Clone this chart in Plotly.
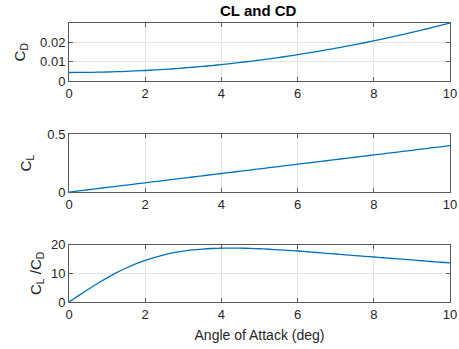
import plotly.graph_objects as go
from plotly.subplots import make_subplots

alpha = [0, 0.25, 0.5, 0.75, 1, 1.25, 1.5, 1.75, 2, 2.25, 2.5, 2.75, 3, 3.25, 3.5, 3.75, 4,
         4.25, 4.5, 4.75, 5, 5.25, 5.5, 5.75, 6, 6.25, 6.5, 6.75, 7, 7.25, 7.5, 7.75, 8,
         8.25, 8.5, 8.75, 9, 9.25, 9.5, 9.75, 10]
cd = [0.00450, 0.00452, 0.00456, 0.00464, 0.00475, 0.00489, 0.00507, 0.00527, 0.00551,
      0.00578, 0.00608, 0.00641, 0.00677, 0.00716, 0.00759, 0.00804, 0.00853, 0.00905,
      0.00960, 0.01019, 0.01080, 0.01145, 0.01212, 0.01283, 0.01357, 0.01434, 0.01515,
      0.01598, 0.01685, 0.01775, 0.01868, 0.01964, 0.02063, 0.02165, 0.02271, 0.02379,
      0.02491, 0.02606, 0.02724, 0.02846, 0.02970]
cl = [0.000, 0.010, 0.020, 0.030, 0.040, 0.050, 0.060, 0.070, 0.080, 0.090, 0.100,
      0.110, 0.120, 0.130, 0.140, 0.150, 0.160, 0.170, 0.180, 0.190, 0.200, 0.210,
      0.220, 0.230, 0.240, 0.250, 0.260, 0.270, 0.280, 0.290, 0.300, 0.310, 0.320,
      0.330, 0.340, 0.350, 0.360, 0.370, 0.380, 0.390, 0.400]
ld = [0.0, 2.21, 4.38, 6.46, 8.42, 10.22, 11.84, 13.28, 14.52, 15.58, 16.46, 17.17,
      17.73, 18.15, 18.45, 18.65, 18.76, 18.80, 18.77, 18.68, 18.55, 18.38, 18.18, 17.97,
      17.78, 17.52, 17.25, 16.98, 16.72, 16.45, 16.18, 15.93, 15.68, 15.42, 15.16, 14.91,
      14.65, 14.38, 14.12, 13.86, 13.60]

xticks = [0, 2, 4, 6, 8, 10]

fig = make_subplots(rows=3, cols=1)
for i, ys in enumerate([cd, cl, ld]):
    fig.add_trace(go.Scatter(x=alpha, y=ys, mode="lines", line_shape="spline",
                             line=dict(color="#0072BD", width=1.3)), row=i + 1, col=1)

font = dict(family="Liberation Sans, Arial, sans-serif", size=13, color="#262626")
ax_common = dict(showline=True, linecolor="#5a5a5a", linewidth=1, mirror="ticks",
                 ticks="inside", ticklen=4, tickcolor="#5a5a5a",
                 showgrid=True, gridcolor="#e3e3e3", gridwidth=1, zeroline=False,
                 automargin=False, ticklabeloverflow="allow",
                 tickfont=dict(size=13, color="#262626"))

domains_y = [[0.791, 1.0], [0.394, 0.602], [0.0, 0.2057]]
yranges = [[0, 0.0297], [0, 0.5], [0, 20]]
yticks = [[0, 0.01, 0.02], [0, 0.5], [0, 10, 20]]
yticktext = [["0", "0.01", "0.02"], ["0", "0.5"], ["0", "10", "20"]]
ytitles = ["C<sub>D</sub>", "C<sub>L</sub>", "C<sub>L</sub> /C<sub>D</sub>"]
standoffs = [10, 12, 5]

for i in range(3):
    xa = "xaxis" if i == 0 else f"xaxis{i+1}"
    ya = "yaxis" if i == 0 else f"yaxis{i+1}"
    fig.update_layout({
        xa: dict(ax_common, range=[0, 10], tickvals=xticks, domain=[0, 1]),
        ya: dict(ax_common, range=yranges[i], domain=domains_y[i],
                 tickvals=yticks[i], ticktext=yticktext[i],
                 title=dict(text=ytitles[i], font=dict(size=15, color="#262626"),
                            standoff=standoffs[i])),
    })

fig.update_layout(xaxis3_title=dict(text="Angle of Attack (deg)",
                                    font=dict(size=14, color="#262626"), standoff=9))

fig.update_layout(
    width=459, height=349,
    margin=dict(l=69, r=9, t=23, b=47, pad=0),
    paper_bgcolor="white", plot_bgcolor="white",
    showlegend=False,
    font=font,
    title=dict(text="<b>CL and CD</b>", x=0.5625, xanchor="center", y=0.97, yanchor="middle",
               font=dict(size=15, color="#000000")),
)

fig.write_html("out.html", config={"displayModeBar": False},
               post_script="document.body.style.margin='0';")
